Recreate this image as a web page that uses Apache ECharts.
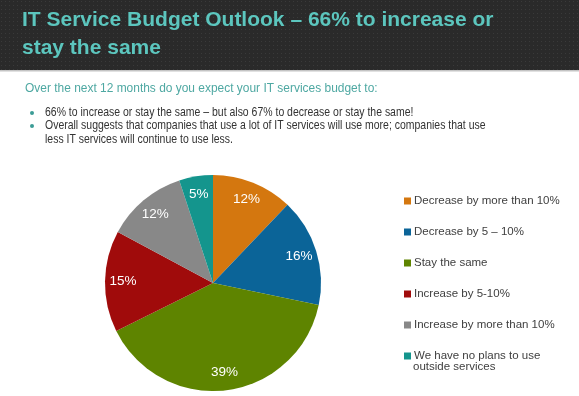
<!DOCTYPE html>
<html>
<head>
<meta charset="utf-8">
<script src="https://cdn.jsdelivr.net/npm/echarts@6/dist/echarts.min.js"></script>
<style>
html,body{margin:0;padding:0;background:#fff;}
#c{width:579px;height:396px;}
</style>
</head>
<body>
<div id="c"></div>
<script>
const titleLines = ['IT Service Budget Outlook – 66% to increase or', 'stay the same'];
const subtitle = 'Over the next 12 months do you expect your IT services budget to:';
const bulletLines = [
  '66% to increase or stay the same – but also 67% to decrease or stay the same!',
  'Overall suggests that companies that use a lot of IT services will use more; companies that use',
  'less IT services will continue to use less.'
];
const categories = [
  'Decrease by more than 10%',
  'Decrease by 5 – 10%',
  'Stay the same',
  'Increase by 5-10%',
  'Increase by more than 10%',
  'We have no plans to use outside services'
];
const legendLabels = [
  'Decrease by more than 10%',
  'Decrease by 5 – 10%',
  'Stay the same',
  'Increase by 5-10%',
  'Increase by more than 10%',
  'We have no plans to use'
];
const legendContinuation = 'outside services';
const values = [12, 16, 39, 15, 12, 5];
const colors = ['#d4770f', '#0b6498', '#5e8400', '#a00b0b', '#888888', '#14958d'];

const FONT = '"Liberation Sans", Arial, sans-serif';

// dotted header texture
const pc = document.createElement('canvas');
pc.width = 4; pc.height = 4;
const pctx = pc.getContext('2d');
pctx.fillStyle = '#2b2b2b'; pctx.fillRect(0, 0, 4, 4);
pctx.fillStyle = '#3e3e3e'; pctx.fillRect(1, 1, 1, 1);

const chart = echarts.init(document.getElementById('c'), null, {renderer: 'canvas'});

const pieData = categories.map((n, i) => ({name: n, value: values[i], itemStyle: {color: colors[i]}}));

const option = {
  backgroundColor: '#ffffff',
  animation: false,
  legend: {
    orient: 'vertical',
    left: 404,
    top: 194,
    padding: 0,
    itemWidth: 7,
    itemHeight: 7,
    itemGap: 17,
    icon: 'rect',
    data: categories,
    selectedMode: false,
    formatter: n => legendLabels[categories.indexOf(n)],
    textStyle: {fontFamily: FONT, fontSize: 11.5, color: '#404040', lineHeight: 14, padding: [0, 0, 0, -2]}
  },
  graphic: [
    {type: 'rect', shape: {x: 0, y: 0, width: 579, height: 70}, style: {fill: '#2b2b2b'}, silent: true},
    {type: 'rect', shape: {x: 0, y: 0, width: 579, height: 70}, style: {fill: {image: pc, repeat: 'repeat'}, opacity: 0.85}, silent: true},
    {type: 'rect', shape: {x: 0, y: 70, width: 579, height: 1.5}, style: {fill: '#c4c4c4'}, silent: true},
    {type: 'text', x: 22, y: 20.5, style: {text: titleLines[0], font: 'bold 21px ' + FONT, fill: '#5cc6be', verticalAlign: 'middle'}, silent: true},
    {type: 'text', x: 22, y: 48.5, style: {text: titleLines[1], font: 'bold 21px ' + FONT, fill: '#5cc6be', verticalAlign: 'middle'}, silent: true},
    {type: 'text', x: 25, y: 88, scaleX: 0.885, style: {text: subtitle, font: '13.5px ' + FONT, fill: '#4ea8a2', verticalAlign: 'middle'}, silent: true},
    {type: 'circle', shape: {cx: 32, cy: 113, r: 2}, style: {fill: '#3c9c96'}, silent: true},
    {type: 'circle', shape: {cx: 32, cy: 126, r: 2}, style: {fill: '#3c9c96'}, silent: true},
    {type: 'text', x: 45, y: 113, scaleX: 0.845, style: {text: bulletLines[0], font: '12.4px ' + FONT, fill: '#333333', verticalAlign: 'middle'}, silent: true},
    {type: 'text', x: 45, y: 126, scaleX: 0.845, style: {text: bulletLines[1], font: '12.4px ' + FONT, fill: '#333333', verticalAlign: 'middle'}, silent: true},
    {type: 'text', x: 45, y: 140, scaleX: 0.845, style: {text: bulletLines[2], font: '12.4px ' + FONT, fill: '#333333', verticalAlign: 'middle'}, silent: true},
    {type: 'text', x: 413, y: 367, style: {text: legendContinuation, font: '11.5px ' + FONT, fill: '#404040', verticalAlign: 'middle'}, silent: true}
  ],
  series: [
    {
      type: 'pie',
      center: [213, 283],
      radius: [0, 108],
      startAngle: 90,
      clockwise: true,
      data: pieData,
      label: {show: false},
      labelLine: {show: false},
      itemStyle: {borderWidth: 0},
      emphasis: {disabled: true},
      silent: true
    },
    {
      type: 'pie',
      center: [213, 283],
      radius: [68, 106],
      startAngle: 90,
      clockwise: true,
      data: categories.map((n, i) => ({name: n, value: values[i]})),
      itemStyle: {color: 'rgba(0,0,0,0)', borderWidth: 0},
      label: {show: true, position: 'inside', formatter: '{c}%', color: '#ffffff', fontFamily: FONT, fontSize: 13.5},
      labelLine: {show: false},
      emphasis: {disabled: true},
      silent: true
    }
  ]
};
chart.setOption(option);
</script>
</body>
</html>
